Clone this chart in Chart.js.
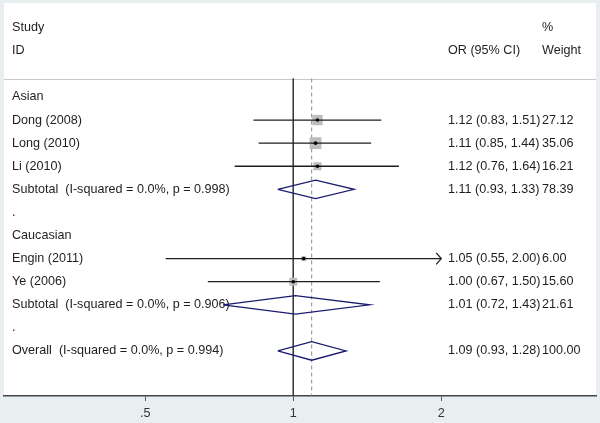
<!DOCTYPE html>
<html>
<head>
<meta charset="utf-8">
<script src="https://cdn.jsdelivr.net/npm/chart.js@4.4.1/dist/chart.umd.min.js"></script>
<style>
  html, body { margin: 0; padding: 0; background: #e9eff0; }
  #wrap { width: 600px; height: 423px; }
</style>
</head>
<body>
<div id="wrap"><canvas id="forest"></canvas></div>
<script>
// Rows of the forest plot, top to bottom
const labels = [
    'Asian',
    'Dong (2008)',
    'Long (2010)',
    'Li (2010)',
    'Subtotal  (I-squared = 0.0%, p = 0.998)',
    '.',
    'Caucasian',
    'Engin (2011)',
    'Ye (2006)',
    'Subtotal  (I-squared = 0.0%, p = 0.906)',
    '.',
    'Overall  (I-squared = 0.0%, p = 0.994)'
];
const rowKind = ['group', 'study', 'study', 'study', 'pooled', 'gap',
                 'group', 'study', 'study', 'pooled', 'gap', 'pooled'];
const oddsRatio = [null, 1.12, 1.11, 1.12, 1.11, null, null, 1.05, 1.00, 1.01, null, 1.09];
const ciLow     = [null, 0.83, 0.85, 0.76, 0.93, null, null, 0.55, 0.67, 0.72, null, 0.93];
const ciHigh    = [null, 1.51, 1.44, 1.64, 1.33, null, null, 2.00, 1.50, 1.43, null, 1.28];
const weights   = [null, 27.12, 35.06, 16.21, 78.39, null, null, 6.00, 15.60, 21.61, null, 100.00];

// Axis ticks
const xTicks = [0.5, 1, 2];
const xTickLabels = ['.5', '1', '2'];

// Constants
const FONT = '"Liberation Sans", Arial, sans-serif';
const X_MIN = 0.258;
const X_MAX = 4.128;
const Y_MIN = -4.07;
const Y_MAX = 12.95;
const SEP_ROW = -0.8;     // horizontal rule under the header
const CLIP_MAX = 2;       // CIs reaching this get an arrow
const DIAMOND_H = 0.4;    // half height of pooled diamonds, in rows
const overallOR = oddsRatio[oddsRatio.length - 1];

Chart.defaults.font.family = FONT;

const datasets = [];

// reference lines at OR = 1 and at the overall estimate
datasets.push({
    data: [{ x: 1, y: SEP_ROW }, { x: 1, y: Y_MAX }],
    showLine: true, borderColor: '#3a3a3a', borderWidth: 1, pointRadius: 0, order: 50
});
datasets.push({
    data: [{ x: overallOR, y: SEP_ROW }, { x: overallOR, y: Y_MAX }],
    showLine: true, borderColor: '#8a8a8a', borderWidth: 1, borderDash: [4, 3], pointRadius: 0, order: 49
});

// weight boxes
const studyRows = rowKind.map((k, i) => i).filter(i => rowKind[i] === 'study');
datasets.push({
    data: studyRows.map(i => ({ x: oddsRatio[i], y: i })),
    pointStyle: 'rect',
    pointRadius: studyRows.map(i => Math.SQRT2 * Math.sqrt(weights[i])),
    backgroundColor: '#bdbdbd', borderWidth: 0, order: 40
});

// confidence interval lines (+ arrow when clipped)
studyRows.forEach(i => {
    const hi = Math.min(ciHigh[i], CLIP_MAX);
    datasets.push({
        data: [{ x: ciLow[i], y: i }, { x: hi, y: i }],
        showLine: true, borderColor: '#1e1e1e', borderWidth: 1.3, pointRadius: 0, order: 30
    });
    if (ciHigh[i] >= CLIP_MAX) {
        const back = hi / 1.024;
        datasets.push({
            data: [{ x: back, y: i - 0.25 }, { x: hi, y: i }, { x: back, y: i + 0.25 }],
            showLine: true, borderColor: '#1e1e1e', borderWidth: 1.3, pointRadius: 0, order: 30
        });
    }
});

// point estimate dots
datasets.push({
    data: studyRows.map(i => ({ x: oddsRatio[i], y: i })),
    pointStyle: 'circle', pointRadius: 1.8,
    backgroundColor: '#000', borderWidth: 0, order: 10
});

// pooled diamonds
rowKind.forEach((k, i) => {
    if (k !== 'pooled') return;
    datasets.push({
        data: [
            { x: ciLow[i], y: i },
            { x: oddsRatio[i], y: i - DIAMOND_H },
            { x: ciHigh[i], y: i },
            { x: oddsRatio[i], y: i + DIAMOND_H },
            { x: ciLow[i], y: i }
        ],
        showLine: true, borderColor: '#1b1b6e', borderWidth: 1.3, pointRadius: 0,
        fill: false, tension: 0, order: 20
    });
});

// white plot region, header rule and the text columns
const forestText = {
    id: 'forestText',
    beforeDraw(chart) {
        const { ctx, chartArea } = chart;
        ctx.save();
        ctx.fillStyle = '#e9eff0';
        ctx.fillRect(0, 0, chart.width, chart.height);
        ctx.fillStyle = '#ffffff';
        ctx.fillRect(chartArea.left, chartArea.top,
                     chartArea.right - chartArea.left, chartArea.bottom - chartArea.top);
        ctx.restore();
    },
    beforeDatasetsDraw(chart) {
        const { ctx, chartArea } = chart;
        const y = chart.scales.y;
        const labelX = chartArea.left + 8;
        const orX = chartArea.right - 148;
        const wX = chartArea.right - 54;

        ctx.save();
        // header rule
        ctx.strokeStyle = '#c8c8c8';
        ctx.lineWidth = 1;
        ctx.beginPath();
        ctx.moveTo(chartArea.left, Math.round(y.getPixelForValue(SEP_ROW)) + 0.5);
        ctx.lineTo(chartArea.right, Math.round(y.getPixelForValue(SEP_ROW)) + 0.5);
        ctx.stroke();

        ctx.font = '12.6px ' + FONT;
        ctx.fillStyle = '#1e1e1e';
        ctx.textBaseline = 'middle';
        ctx.fillText('Study', labelX, y.getPixelForValue(-3));
        ctx.fillText('ID', labelX, y.getPixelForValue(-2));
        ctx.fillText('%', wX, y.getPixelForValue(-3));
        ctx.fillText('OR (95% CI)', orX, y.getPixelForValue(-2));
        ctx.fillText('Weight', wX, y.getPixelForValue(-2));

        labels.forEach((lab, i) => {
            const py = y.getPixelForValue(i);
            ctx.fillText(lab, labelX, py);
            if (oddsRatio[i] !== null) {
                ctx.fillText(oddsRatio[i].toFixed(2) + ' (' + ciLow[i].toFixed(2) + ', ' +
                             ciHigh[i].toFixed(2) + ')', orX, py);
                ctx.fillText(weights[i].toFixed(2), wX, py);
            }
        });
        ctx.restore();
    }
};

new Chart(document.getElementById('forest'), {
    type: 'scatter',
    data: { datasets },
    plugins: [forestText],
    options: {
        responsive: true,
        maintainAspectRatio: false,
        animation: false,
        events: [],
        layout: { autoPadding: false, padding: { left: 4, right: 4, top: 3, bottom: 0 } },
        plugins: { legend: { display: false }, tooltip: { enabled: false } },
        scales: {
            x: {
                type: 'logarithmic',
                min: X_MIN,
                max: X_MAX,
                afterBuildTicks: (scale) => { scale.ticks = xTicks.map(v => ({ value: v })); },
                afterFit: (scale) => { scale.height = 27; },
                ticks: {
                    autoSkip: false,
                    maxRotation: 0,
                    padding: 5,
                    color: '#333',
                    font: { size: 12.6 },
                    callback: (v) => xTickLabels[xTicks.indexOf(v)] ?? ''
                },
                grid: { drawOnChartArea: false, drawTicks: true, tickLength: 5, tickColor: '#555', color: '#555' },
                border: { display: true, color: '#444', width: 1.5 }
            },
            y: {
                type: 'linear',
                reverse: true,
                min: Y_MIN,
                max: Y_MAX,
                display: false
            }
        }
    }
});
</script>
</body>
</html>
